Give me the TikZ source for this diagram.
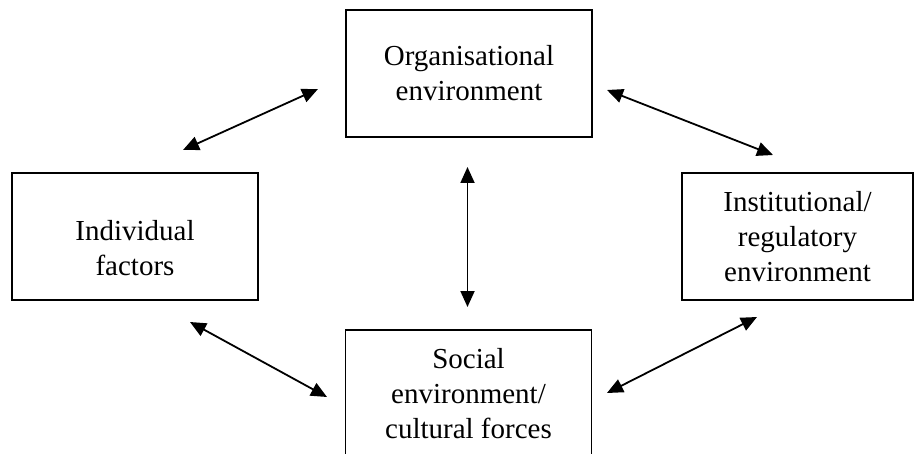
\documentclass[tikz,border=0pt]{standalone}
\usepackage{fontspec}
\setmainfont{Liberation Serif}
\usetikzlibrary{positioning, arrows.meta}

\begin{document}
\begin{tikzpicture}[
  x=1pt, y=-1pt,
  >={Triangle[length=16pt, width=14pt]},
  box/.style={draw, line width=1.8pt, minimum width=246pt, minimum height=127pt,
    align=center, font=\fontsize{29}{35}\selectfont, inner sep=0pt},
  link/.style={<->, line width=1.8pt},
]
\useasboundingbox (0,0) rectangle (915,454);

% --- Factor boxes ---
\node[box] (org) at (469, 73.5) {Organisational\\environment};
\node[box, text height=79pt] (indiv) at (135, 236.5) {Individual\\factors};
\node[box, minimum width=231pt] (inst) at (797.5, 236.5)
  {Institutional/\\regulatory\\environment};
\node[box] (soc) at (468.5, 393.5) {Social\\environment/\\cultural forces};

% --- Free ends of the links ---
\coordinate (indiv-ne) at (183, 150);
\coordinate (org-w) at (318, 89);
\coordinate (org-e) at (607, 90);
\coordinate (inst-nw) at (773, 155);
\coordinate (org-s) at (467.5, 167);
\coordinate (soc-n) at (467.5, 307);
\coordinate (indiv-se) at (190, 322);
\coordinate (soc-w) at (327, 397);
\coordinate (soc-e) at (607, 393);
\coordinate (inst-sw) at (757, 317);

% --- Links ---
\draw[link] (indiv-ne) -- (org-w);
\draw[link] (org-e) -- (inst-nw);
\draw[link] (org-s) -- (soc-n);
\draw[link] (indiv-se) -- (soc-w);
\draw[link] (soc-e) -- (inst-sw);

\end{tikzpicture}
\end{document}
